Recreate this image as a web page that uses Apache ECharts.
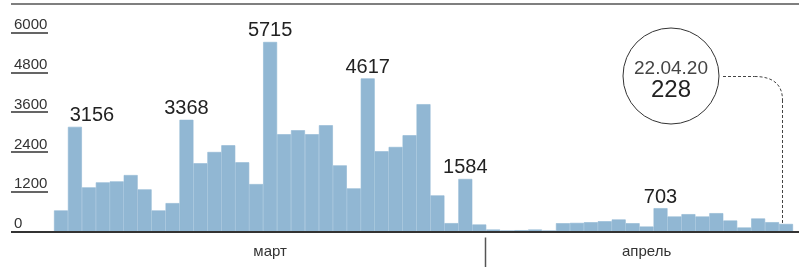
<!DOCTYPE html>
<html>
<head>
<meta charset="utf-8">
<script src="https://cdn.jsdelivr.net/npm/echarts@6/dist/echarts.min.js"></script>
<style>
  html, body { margin: 0; padding: 0; background: #fff; }
  #chart { width: 799px; height: 267px; }
</style>
</head>
<body>
<div id="chart"></div>
<script>
// daily counts, 1 March .. 31 March
const marchCounts = [635, 3156, 1330, 1481, 1511, 1702, 1270, 635, 856, 3368,
  2056, 2398, 2600, 2086, 1430, 5715, 2932, 3053, 2932, 3204,
  1995, 1300, 4617, 2418, 2549, 2902, 3839, 1088, 252, 1584, 212];
// daily counts, 1 April .. 22 April
const aprilCounts = [60, 30, 40, 60, 30, 250, 260, 280, 310, 363,
  250, 150, 703, 453, 523, 453, 553, 332, 121, 393, 281, 228];
const monthNames = ['март', 'апрель'];
const yTicks = [0, 1200, 2400, 3600, 4800, 6000];
// bars that carry a value label
const labelledDays = ['02.03', '10.03', '16.03', '23.03', '30.03', '13.04'];

const pad = n => (n < 10 ? '0' : '') + n;
const days = marchCounts.map((v, i) => pad(i + 1) + '.03')
  .concat(aprilCounts.map((v, i) => pad(i + 1) + '.04'));
const counts = marchCounts.concat(aprilCounts);
const aprilStart = marchCounts.length;
const lastIdx = counts.length - 1;

const narrow = "'Liberation Sans Narrow', 'Liberation Sans', Arial, sans-serif";
const plain = "'Liberation Sans', Arial, sans-serif";
const barColor = '#91b7d3';

const chart = echarts.init(document.getElementById('chart'));

const barData = counts.map((v, i) => {
  const item = { value: v };
  if (labelledDays.indexOf(days[i]) >= 0) {
    item.label = { show: true, offset: i === 1 ? [17, 0] : [0, 0] };
  }
  return item;
});

chart.setOption({
  animation: false,
  grid: { left: 54, right: 6, top: 32.5, bottom: 35.5 },
  xAxis: [
    {
      type: 'category',
      data: days,
      axisLine: { show: false },
      axisTick: { show: false },
      axisLabel: { show: false }
    },
    {
      type: 'category',
      data: days,
      position: 'bottom',
      offset: 6,
      axisLine: { show: false },
      axisTick: { show: false },
      axisLabel: {
        interval: idx => idx === 15 || idx === 42,
        formatter: (val, idx) => (idx < aprilStart ? monthNames[0] : monthNames[1]),
        margin: 7,
        fontFamily: narrow,
        fontSize: 15,
        color: '#333'
      }
    }
  ],
  yAxis: {
    type: 'value',
    min: yTicks[0],
    max: yTicks[yTicks.length - 1],
    interval: 1200,
    offset: 6,
    splitLine: { show: false },
    axisLine: { show: false },
    axisTick: { show: true, length: 37, lineStyle: { color: '#333', width: 1.5 } },
    axisLabel: {
      align: 'left',
      verticalAlign: 'bottom',
      margin: 34,
      formatter: v => String(v),
      fontFamily: narrow,
      fontSize: 15,
      lineHeight: 15,
      color: '#333'
    }
  },
  series: [{
    type: 'bar',
    data: barData,
    barCategoryGap: 0,
    itemStyle: { color: barColor, borderColor: barColor, borderWidth: 0.6 },
    label: {
      show: false,
      position: 'top',
      distance: 1,
      fontFamily: plain,
      fontSize: 20,
      color: '#222'
    }
  }]
});

// frame lines, month divider and callout
const zeroY = chart.convertToPixel({ yAxisIndex: 0 }, 0);
const c0 = chart.convertToPixel({ xAxisIndex: 0 }, days[aprilStart - 1]);
const c1 = chart.convertToPixel({ xAxisIndex: 0 }, days[aprilStart]);
const divX = Math.round((c0 + c1) / 2) - 0.5;
const last = chart.convertToPixel({ seriesIndex: 0 }, [lastIdx, counts[lastIdx]]);
const cx = 671, cy = 76, r = 48;
const lx = Math.round(last[0] - 4) + 0.5;
const dash = { fill: null, stroke: '#444', lineWidth: 1, lineDash: [3, 2] };

chart.setOption({
  graphic: [
    { type: 'line', shape: { x1: 11, y1: 4, x2: 799, y2: 4 }, style: { stroke: '#555', lineWidth: 1.5 } },
    { type: 'line', shape: { x1: 11, y1: zeroY + 0.5, x2: 799, y2: zeroY + 0.5 }, style: { stroke: '#333', lineWidth: 2 }, z: 10 },
    { type: 'line', shape: { x1: divX, y1: zeroY + 6, x2: divX, y2: 267 }, style: { stroke: '#555', lineWidth: 1.5 } },
    { type: 'circle', shape: { cx: cx, cy: cy, r: r }, style: { fill: '#fff', stroke: '#333', lineWidth: 1 } },
    {
      type: 'text', x: cx, y: cy - 7,
      style: { text: days[lastIdx] + '.20', fontFamily: plain, fontSize: 19, fill: '#444', align: 'center', verticalAlign: 'middle' }
    },
    {
      type: 'text', x: cx, y: cy + 14,
      style: { text: String(counts[lastIdx]), fontFamily: plain, fontSize: 24, fill: '#222', align: 'center', verticalAlign: 'middle' }
    },
    { type: 'line', shape: { x1: cx + r + 4, y1: cy + 0.5, x2: lx - 28, y2: cy + 0.5 }, style: dash },
    {
      type: 'bezierCurve',
      shape: { x1: lx - 28, y1: cy + 0.5, cpx1: lx - 10, cpy1: cy + 0.5, cpx2: lx, cpy2: cy + 8, x2: lx, y2: cy + 24 },
      style: dash
    },
    { type: 'line', shape: { x1: lx, y1: cy + 24, x2: lx, y2: last[1] - 1 }, style: dash }
  ]
});
</script>
</body>
</html>
